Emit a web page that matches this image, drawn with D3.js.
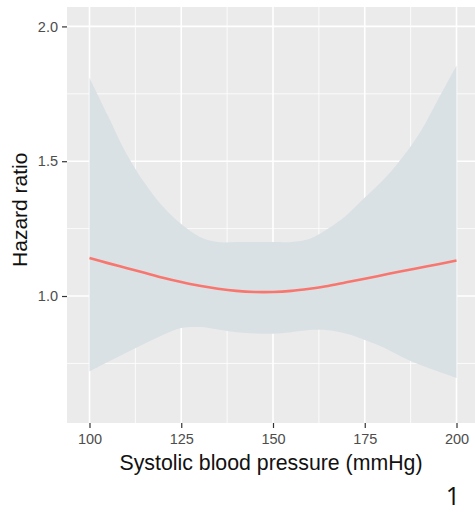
<!DOCTYPE html>
<html>
<head>
<meta charset="utf-8">
<script src="https://cdn.jsdelivr.net/npm/d3@7"></script>
<style>
  body { margin: 0; background: #fff; }
  svg { display: block; }
</style>
</head>
<body>
<svg id="chart" width="475" height="514"></svg>
<script>
// Systolic blood pressure grid (mmHg)
var sbp = [100, 105, 110, 115, 120, 125, 130, 135, 140, 145, 150,
           155, 160, 165, 170, 175, 180, 185, 190, 195, 200];
// fitted hazard ratio
var hr = [1.141, 1.122, 1.104, 1.086, 1.068, 1.052, 1.038, 1.027, 1.019, 1.015, 1.015,
          1.019, 1.027, 1.037, 1.051, 1.064, 1.078, 1.092, 1.105, 1.118, 1.132];
// confidence band
var hrUpper = [1.81, 1.67, 1.53, 1.42, 1.332, 1.267, 1.22, 1.2, 1.2, 1.2, 1.2,
               1.2, 1.212, 1.25, 1.3, 1.365, 1.43, 1.51, 1.606, 1.73, 1.855];
var hrLower = [0.72, 0.755, 0.79, 0.823, 0.855, 0.881, 0.885, 0.876, 0.866, 0.861, 0.86,
               0.866, 0.874, 0.873, 0.86, 0.837, 0.81, 0.775, 0.745, 0.72, 0.696];

var xTicks = [100, 125, 150, 175, 200];
var xMinor = [112.5, 137.5, 162.5, 187.5];
var yTicks = [1.0, 1.5, 2.0];
var yMinor = [0.75, 1.25, 1.75];

var svg = d3.select('#chart');
var panel = { left: 67, right: 475, top: 7, bottom: 423 };

var x = d3.scaleLinear().domain([93.87, 205.04]).range([panel.left, panel.right]);
var y = d3.scaleLinear().domain([0.529, 2.072]).range([panel.bottom, panel.top]);

// Panel background
svg.append('rect')
    .attr('x', panel.left)
    .attr('y', panel.top)
    .attr('width', panel.right - panel.left)
    .attr('height', panel.bottom - panel.top)
    .attr('fill', '#EBEBEB');

// Grid lines
var grid = svg.append('g');
grid.selectAll('.ymin').data(yMinor).enter().append('line')
    .attr('x1', panel.left).attr('x2', panel.right)
    .attr('y1', function (d) { return y(d); }).attr('y2', function (d) { return y(d); })
    .attr('stroke', '#fff').attr('stroke-width', 0.8);
grid.selectAll('.xmin').data(xMinor).enter().append('line')
    .attr('y1', panel.top).attr('y2', panel.bottom)
    .attr('x1', function (d) { return x(d); }).attr('x2', function (d) { return x(d); })
    .attr('stroke', '#fff').attr('stroke-width', 0.8);
grid.selectAll('.ymaj').data(yTicks).enter().append('line')
    .attr('x1', panel.left).attr('x2', panel.right)
    .attr('y1', function (d) { return y(d); }).attr('y2', function (d) { return y(d); })
    .attr('stroke', '#fff').attr('stroke-width', 1.6);
grid.selectAll('.xmaj').data(xTicks).enter().append('line')
    .attr('y1', panel.top).attr('y2', panel.bottom)
    .attr('x1', function (d) { return x(d); }).attr('x2', function (d) { return x(d); })
    .attr('stroke', '#fff').attr('stroke-width', 1.6);

var rows = sbp.map(function (v, i) {
  return { x: v, fit: hr[i], lo: hrLower[i], hi: hrUpper[i] };
});

// Confidence ribbon
var area = d3.area()
    .x(function (d) { return x(d.x); })
    .y0(function (d) { return y(d.lo); })
    .y1(function (d) { return y(d.hi); })
    .curve(d3.curveCatmullRom);
svg.append('path')
    .datum(rows)
    .attr('d', area)
    .attr('fill', '#DAE1E5');

// Fitted line
var line = d3.line()
    .x(function (d) { return x(d.x); })
    .y(function (d) { return y(d.fit); })
    .curve(d3.curveCatmullRom);
svg.append('path')
    .datum(rows)
    .attr('d', line)
    .attr('fill', 'none')
    .attr('stroke', '#F8766D')
    .attr('stroke-width', 2.6);

// Axes
var font = 'Liberation Sans, Arial, sans-serif';
var xAxis = svg.append('g')
    .attr('transform', 'translate(0,' + panel.bottom + ')')
    .call(d3.axisBottom(x).tickValues(xTicks).tickSize(5).tickPadding(6).tickFormat(d3.format('d')));
var yAxis = svg.append('g')
    .attr('transform', 'translate(' + panel.left + ',0)')
    .call(d3.axisLeft(y).tickValues(yTicks).tickSize(5).tickPadding(4).tickFormat(d3.format('.1f')));

[xAxis, yAxis].forEach(function (ax) {
  ax.select('.domain').remove();
  ax.selectAll('.tick line').attr('stroke', '#333').attr('stroke-width', 1.2);
  ax.selectAll('.tick text')
      .attr('fill', '#4D4D4D')
      .style('font-family', font)
      .style('font-size', '14.5px');
});

// Axis titles
svg.append('text')
    .attr('x', 271)
    .attr('y', 470)
    .attr('text-anchor', 'middle')
    .style('font-family', font)
    .style('font-size', '21.3px')
    .attr('fill', '#111')
    .text('Systolic blood pressure (mmHg)');

svg.append('text')
    .attr('transform', 'translate(27,' + y(1.32) + ') rotate(-90)')
    .attr('text-anchor', 'middle')
    .style('font-family', font)
    .style('font-size', '21px')
    .attr('fill', '#111')
    .text('Hazard ratio');

// Panel label
svg.append('text')
    .attr('x', 453)
    .attr('y', 505)
    .attr('text-anchor', 'middle')
    .style('font-family', 'Open Sans, Noto Sans, sans-serif')
    .style('font-size', '25px')
    .attr('fill', '#111')
    .text('1');
</script>
</body>
</html>
